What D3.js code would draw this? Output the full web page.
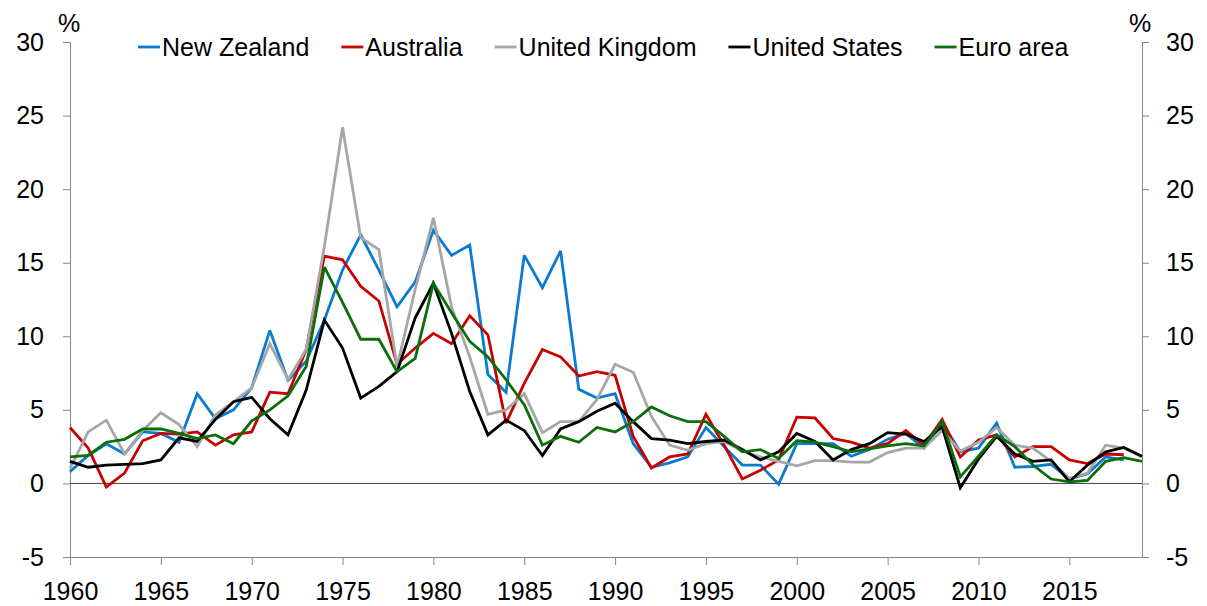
<!DOCTYPE html>
<html lang="en">
<head>
    <meta charset="UTF-8">
    <title>Inflation rates</title>
    <script src="https://d3js.org/d3.v7.min.js"></script>
    <style type="text/css">
        body {
            margin: 0;
            background-color: #fff;
        }

        svg text {
            font-family: "Liberation Sans", Arial, sans-serif;
            fill: #000;
        }

        .axis path,
        .axis line {
            stroke: #868686;
        }
    </style>
</head>
<body>
    <div id="chartArea"></div>
    <script type="text/javascript">
        var years = [1960, 1961, 1962, 1963, 1964, 1965, 1966, 1967, 1968, 1969,
            1970, 1971, 1972, 1973, 1974, 1975, 1976, 1977, 1978, 1979,
            1980, 1981, 1982, 1983, 1984, 1985, 1986, 1987, 1988, 1989,
            1990, 1991, 1992, 1993, 1994, 1995, 1996, 1997, 1998, 1999,
            2000, 2001, 2002, 2003, 2004, 2005, 2006, 2007, 2008, 2009,
            2010, 2011, 2012, 2013, 2014, 2015, 2016, 2017, 2018, 2019];

        // annual CPI inflation, %
        var newZealand = [0.8, 1.9, 2.7, 2.0, 3.5, 3.4, 2.8, 6.1, 4.4, 5.0,
            6.5, 10.4, 7.0, 8.3, 11.1, 14.5, 16.9, 14.5, 12.0, 13.7,
            17.2, 15.5, 16.2, 7.4, 6.2, 15.5, 13.3, 15.8, 6.4, 5.8,
            6.1, 2.7, 1.1, 1.4, 1.8, 3.8, 2.5, 1.25, 1.25, -0.05,
            2.7, 2.7, 2.7, 1.85, 2.3, 3.0, 3.4, 2.4, 4.1, 2.15,
            2.4, 4.1, 1.1, 1.15, 1.3, 0.3, 0.65, 1.8, 1.6];
        var australia = [3.8, 2.4, -0.25, 0.7, 2.9, 3.4, 3.35, 3.5, 2.6, 3.3,
            3.5, 6.2, 6.1, 9.1, 15.45, 15.2, 13.4, 12.4, 8.1, 9.2,
            10.2, 9.5, 11.4, 10.1, 4.1, 6.8, 9.1, 8.6, 7.3, 7.6,
            7.35, 3.2, 1.05, 1.8, 2.0, 4.7, 2.6, 0.3, 0.9, 1.6,
            4.5, 4.45, 3.05, 2.8, 2.4, 2.7, 3.6, 2.6, 4.35, 1.8,
            2.95, 3.3, 1.8, 2.5, 2.5, 1.6, 1.35, 2.0, 1.95];
        var unitedKingdom = [1.0, 3.5, 4.3, 2.0, 3.6, 4.8, 4.0, 2.5, 4.65, 5.55,
            6.5, 9.5, 7.05, 9.1, 16.1, 24.2, 16.7, 15.9, 7.95, 13.2,
            18.05, 12.0, 8.6, 4.7, 5.0, 6.1, 3.45, 4.2, 4.2, 5.7,
            8.1, 7.55, 4.55, 2.6, 2.25, 2.7, 2.85, 2.2, 1.8, 1.5,
            1.2, 1.55, 1.55, 1.45, 1.45, 2.1, 2.4, 2.4, 3.6, 2.2,
            2.8, 3.8, 2.6, 2.4, 1.5, 0.35, 0.7, 2.6, 2.4, 1.8];
        var unitedStates = [1.5, 1.1, 1.25, 1.3, 1.35, 1.6, 3.1, 2.85, 4.35, 5.55,
            5.85, 4.4, 3.3, 6.35, 11.1, 9.2, 5.8, 6.6, 7.6, 11.25,
            13.6, 10.2, 6.25, 3.3, 4.3, 3.6, 1.9, 3.7, 4.2, 4.9,
            5.45, 4.2, 3.05, 2.95, 2.7, 2.85, 2.95, 2.3, 1.6, 2.15,
            3.4, 2.85, 1.6, 2.3, 2.7, 3.45, 3.35, 2.85, 3.85, -0.3,
            1.65, 3.2, 2.0, 1.5, 1.6, 0.12, 1.25, 2.15, 2.45, 1.85];
        var euroArea = [1.8, 1.9, 2.8, 3.0, 3.7, 3.7, 3.4, 3.05, 3.3, 2.7,
            4.25, 5.0, 5.95, 7.95, 14.7, 12.3, 9.8, 9.8, 7.6, 8.5,
            13.6, 11.6, 9.65, 8.6, 7.05, 5.35, 2.6, 3.2, 2.8, 3.8,
            3.5, 4.2, 5.2, 4.6, 4.2, 4.2, 3.2, 2.15, 2.3, 1.7,
            2.9, 2.8, 2.5, 2.15, 2.35, 2.55, 2.7, 2.55, 4.2, 0.45,
            1.85, 3.3, 2.5, 1.25, 0.3, 0.1, 0.2, 1.5, 1.75, 1.5];

        var seriesNames = ['New Zealand', 'Australia', 'United Kingdom', 'United States', 'Euro area'];
        var seriesColors = ['#0a7bd0', '#c80000', '#a6a6a6', '#000000', '#0a6e0a'];
        var seriesValues = [newZealand, australia, unitedKingdom, unitedStates, euroArea];

        var yTicks = [-5, 0, 5, 10, 15, 20, 25, 30];
        var xTicks = [1960, 1965, 1970, 1975, 1980, 1985, 1990, 1995, 2000, 2005, 2010, 2015];

        var W = 1207, H = 606;
        var margin = { top: 42, right: 65, bottom: 49, left: 70 };
        var w = W - margin.left - margin.right,
            h = H - margin.top - margin.bottom;

        var svg = d3.select('#chartArea').append('svg')
            .attr('width', W)
            .attr('height', H);

        var g = svg.append('g')
            .attr('transform', 'translate(' + margin.left + ',' + margin.top + ')');

        var xScale = d3.scaleLinear()
            .domain([1960, 2019])
            .range([0, w]);

        var yScale = d3.scaleLinear()
            .domain([-5, 30])
            .range([h, 0]);

        // axes
        var fontSize = '25px';
        var plainNum = function (d) { return String(d); };   // keep the plain hyphen for -5

        g.append('g')
            .attr('class', 'axis')
            .attr('transform', 'translate(0,' + h + ')')
            .call(d3.axisBottom(xScale).tickValues(xTicks).tickFormat(plainNum)
                .tickSize(8).tickSizeOuter(0).tickPadding(17));

        g.append('g')
            .attr('class', 'axis')
            .call(d3.axisLeft(yScale).tickValues(yTicks).tickFormat(plainNum)
                .tickSize(7).tickSizeOuter(0).tickPadding(19));

        g.append('g')
            .attr('class', 'axis')
            .attr('transform', 'translate(' + w + ',0)')
            .call(d3.axisRight(yScale).tickValues(yTicks).tickFormat(plainNum)
                .tickSize(7).tickSizeOuter(0).tickPadding(17));

        g.selectAll('.axis text')
            .style('font-size', fontSize)
            .attr('fill', '#000');
        g.selectAll('.axis .domain').attr('stroke', '#868686');
        g.selectAll('.axis .tick line').attr('stroke', '#868686');

        // zero line
        g.append('line')
            .attr('x1', 0)
            .attr('x2', w)
            .attr('y1', yScale(0))
            .attr('y2', yScale(0))
            .attr('stroke', '#404040')
            .attr('stroke-width', 1);

        // unit labels
        g.append('text')
            .attr('x', -1)
            .attr('y', -10)
            .attr('text-anchor', 'middle')
            .style('font-size', fontSize)
            .text('%');
        g.append('text')
            .attr('x', w - 2)
            .attr('y', -10)
            .attr('text-anchor', 'middle')
            .style('font-size', fontSize)
            .text('%');

        // lines
        var line = d3.line()
            .x(function (d, i) { return xScale(years[i]); })
            .y(function (d) { return yScale(d); });

        g.selectAll('.series')
            .data(seriesValues)
            .enter()
            .append('path')
            .attr('class', 'series')
            .attr('d', line)
            .attr('fill', 'none')
            .attr('stroke', function (d, i) { return seriesColors[i]; })
            .attr('stroke-width', 2.8)
            .attr('stroke-linejoin', 'miter')
            .attr('stroke-miterlimit', 3);

        // legend
        var legend = svg.append('g');
        var lx = 138, ly = 47;
        seriesNames.forEach(function (name, i) {
            legend.append('line')
                .attr('x1', lx)
                .attr('x2', lx + 22)
                .attr('y1', ly)
                .attr('y2', ly)
                .attr('stroke', seriesColors[i])
                .attr('stroke-width', 2.8);
            var t = legend.append('text')
                .attr('x', lx + 24)
                .attr('y', ly)
                .attr('dy', '0.35em')
                .style('font-size', fontSize)
                .text(name);
            lx += 24 + t.node().getComputedTextLength() + 32;
        });
    </script>
</body>
</html>
